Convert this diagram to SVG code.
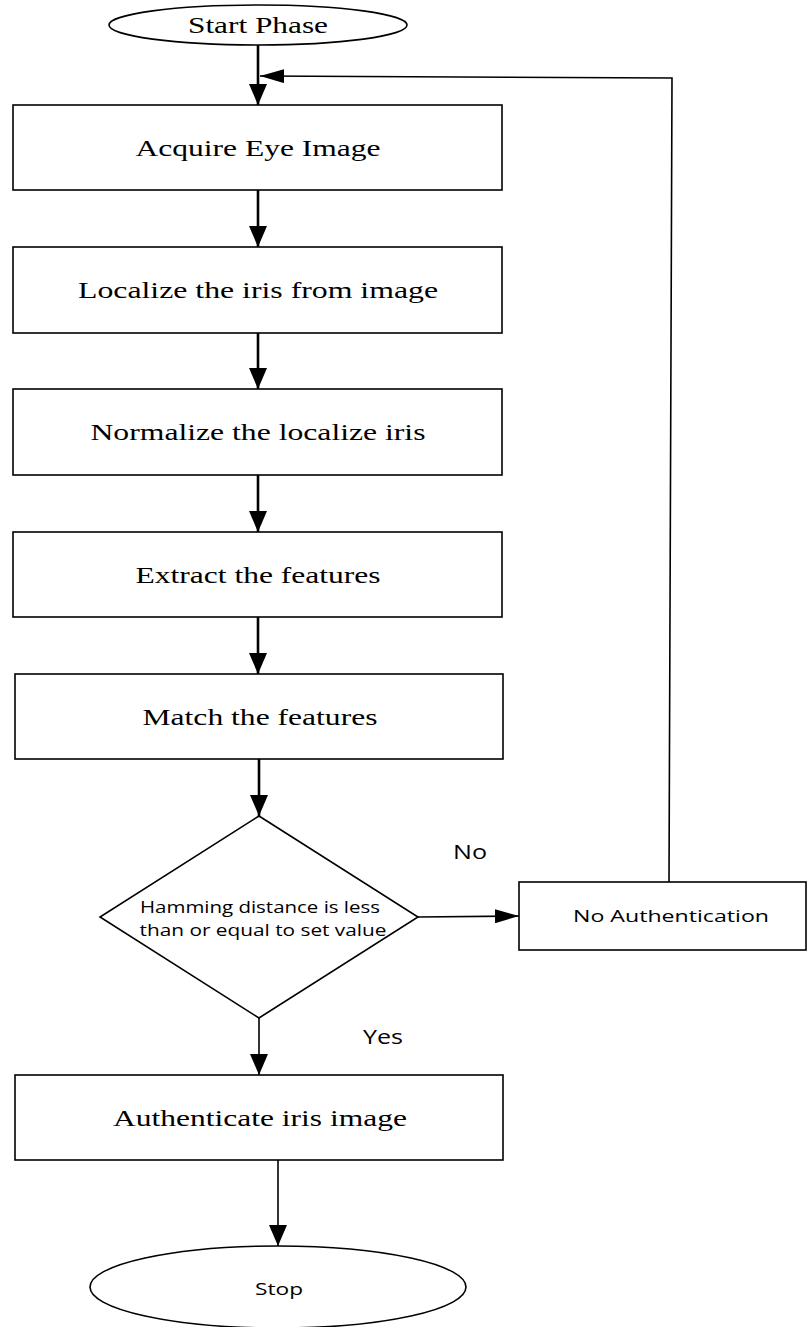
<svg xmlns="http://www.w3.org/2000/svg" width="809" height="1327" viewBox="0 0 809 1327">
<style>
.box{fill:#fff;stroke:#000;stroke-width:1.6}
.serif{font-family:"Liberation Serif","Times New Roman",serif;font-size:24px;fill:#000;text-anchor:middle}
.sans{font-family:"Open Sans","Liberation Sans",sans-serif;fill:#000;text-anchor:middle}
.thick{fill:none;stroke:#000;stroke-width:2.6}
.thin{fill:none;stroke:#000;stroke-width:1.6}
</style>
<defs>
<marker id="arrV" viewBox="0 0 21 18" refX="21" refY="9" markerWidth="21" markerHeight="18" markerUnits="userSpaceOnUse" orient="auto"><path d="M0,0 L21,9 L0,18 z" fill="#000"/></marker>
<marker id="arrH" viewBox="0 0 24 14" refX="24" refY="7" markerWidth="24" markerHeight="14" markerUnits="userSpaceOnUse" orient="auto"><path d="M0,0 L24,7 L0,14 z" fill="#000"/></marker>
</defs>
<rect width="809" height="1327" fill="#fff"/>
<g id="connectors">
<line class="thick" x1="258" y1="45" x2="258" y2="105" marker-end="url(#arrV)"/>
<line class="thick" x1="258" y1="190" x2="258" y2="247" marker-end="url(#arrV)"/>
<line class="thick" x1="258" y1="333" x2="258" y2="389" marker-end="url(#arrV)"/>
<line class="thick" x1="258" y1="475" x2="258" y2="532" marker-end="url(#arrV)"/>
<line class="thick" x1="258" y1="617" x2="258" y2="674" marker-end="url(#arrV)"/>
<line class="thick" x1="259" y1="759" x2="259" y2="816" marker-end="url(#arrV)"/>
<line class="thin" x1="259" y1="1018" x2="259" y2="1075" marker-end="url(#arrV)"/>
<line class="thin" x1="278" y1="1160" x2="278" y2="1246" marker-end="url(#arrV)"/>
<line class="thin" x1="418" y1="917" x2="519" y2="916" marker-end="url(#arrH)"/>
<polyline class="thin" points="669,882 672,78 260,76" marker-end="url(#arrH)"/>
</g>
<g id="start">
<ellipse class="box" cx="258" cy="25" rx="149" ry="20"/>
<text class="serif" x="258" y="33" font-size="22" textLength="140" lengthAdjust="spacingAndGlyphs">Start Phase</text>
</g>
<g id="acquire">
<rect class="box" x="13" y="105" width="489" height="85"/>
<text class="serif" x="258" y="156" textLength="245" lengthAdjust="spacingAndGlyphs">Acquire Eye Image</text>
</g>
<g id="localize">
<rect class="box" x="13" y="247" width="489" height="86"/>
<text class="serif" x="258" y="298" textLength="360" lengthAdjust="spacingAndGlyphs">Localize the iris from image</text>
</g>
<g id="normalize">
<rect class="box" x="13" y="389" width="489" height="86"/>
<text class="serif" x="258" y="440" textLength="335" lengthAdjust="spacingAndGlyphs">Normalize the localize iris</text>
</g>
<g id="extract">
<rect class="box" x="13" y="532" width="489" height="85"/>
<text class="serif" x="258" y="583" textLength="245" lengthAdjust="spacingAndGlyphs">Extract the features</text>
</g>
<g id="match">
<rect class="box" x="15" y="674" width="488" height="85"/>
<text class="serif" x="260" y="725" textLength="235" lengthAdjust="spacingAndGlyphs">Match the features</text>
</g>
<g id="decision">
<polygon class="box" points="259,816 418,917 259,1018 100,917"/>
<text class="sans" x="260" y="913" font-size="16" textLength="240" lengthAdjust="spacingAndGlyphs">Hamming distance is less</text>
<text class="sans" x="263" y="936" font-size="16" textLength="247" lengthAdjust="spacingAndGlyphs">than or equal to set value</text>
</g>
<g id="noauth">
<rect class="box" x="519" y="882" width="287" height="68"/>
<text class="sans" x="671" y="922" font-size="17" textLength="196" lengthAdjust="spacingAndGlyphs">No Authentication</text>
</g>
<g id="labels">
<text class="sans" x="470" y="859" font-size="20" textLength="34" lengthAdjust="spacingAndGlyphs">No</text>
<text class="sans" x="383" y="1044" font-size="20" textLength="40" lengthAdjust="spacingAndGlyphs">Yes</text>
</g>
<g id="authenticate">
<rect class="box" x="15" y="1075" width="488" height="85"/>
<text class="serif" x="260" y="1126" textLength="294" lengthAdjust="spacingAndGlyphs">Authenticate iris image</text>
</g>
<g id="stop">
<ellipse class="box" cx="278" cy="1287" rx="188" ry="41"/>
<text class="sans" x="279" y="1295" font-size="17" textLength="48" lengthAdjust="spacingAndGlyphs">Stop</text>
</g>
</svg>
